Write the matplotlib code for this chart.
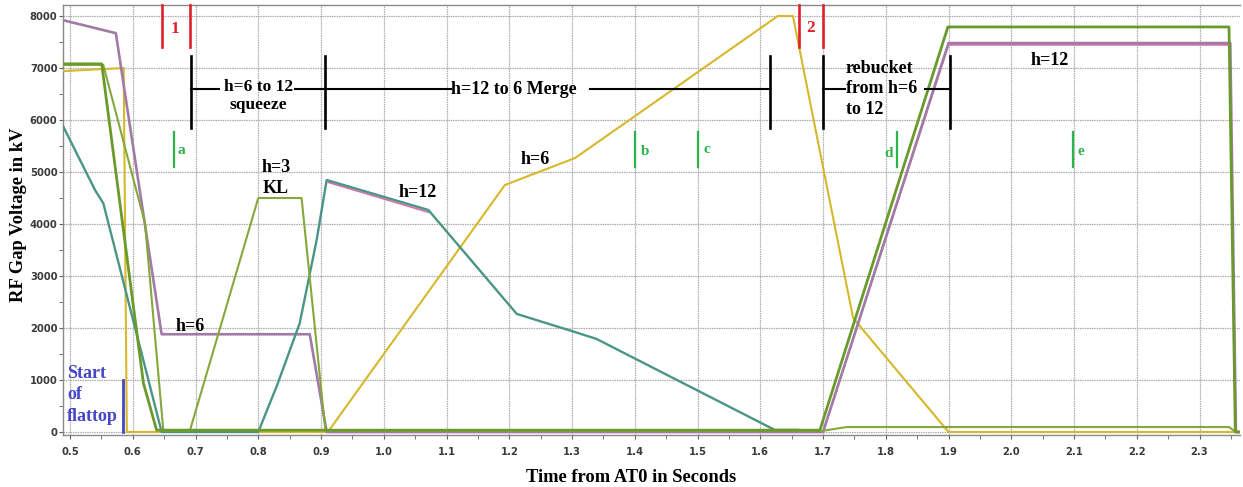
import matplotlib
matplotlib.use("Agg")
import matplotlib.pyplot as plt
import numpy as np
from matplotlib.ticker import MultipleLocator

# ---------------- data (time in s, voltage in kV) ----------------
purple_t = [0.489, 0.573, 0.646, 0.882, 0.909, 1.700, 1.900, 2.349, 2.358, 2.3645]
purple_v = [7920, 7670, 1880, 1880, 0, 0, 7480, 7480, 0, 0]

pink_t = [0.912, 1.071, np.nan, 1.700, 1.900, 2.349]
pink_v = [4800, 4228, np.nan, 0, 7445, 7445]

green1_t = [0.489, 0.5505, 0.617, 0.638, 1.695, 1.899, 2.347, 2.357, 2.3645]
green1_v = [7080, 7080, 936, 35, 35, 7790, 7790, 0, 0]

green2_t = [0.489, 0.553, 0.6195, 0.6487, 0.691, 0.800, 0.869, 0.907, 1.700, 1.738, 2.347, 2.358, 2.3645]
green2_v = [7060, 7060, 4013, 25, 25, 4500, 4500, 25, 25, 95, 95, 0, 0]

teal_t = [0.489, 0.5398, 0.5531, 0.646, 0.800, 0.830, 0.866, 0.893, 0.909, 1.071, 1.212, 1.300, 1.339, 1.623, 1.660]
teal_v = [5880, 4654, 4397, 0, 0, 900, 2090, 3690, 4846, 4270, 2270, 1940, 1790, 40, 40]

yellow_t = [0.489, 0.5855, 0.5905, 0.911, 1.193, 1.305, 1.628, 1.652, 1.748, 1.900, 2.3645]
yellow_v = [6940, 7000, 0, 0, 4750, 5270, 8000, 8000, 2190, 0, 0]

# ---------------- annotation positions ----------------
red_marks_t = [0.646, 0.691, 1.662, 1.700]
red_mark_lo, red_mark_hi = 7400, 8212
bracket_t = [0.693, 0.906, 1.616, 1.700, 1.902]
bracket_lo, bracket_hi = 5850, 7230
bracket_y = 6600
bracket_segments = [(0.693, 0.737), (0.858, 0.906), (0.906, 1.107), (1.328, 1.616),
                    (1.700, 1.735), (1.863, 1.902)]
green_marks_t = [0.666, 1.400, 1.501, 1.818, 2.098]
green_mark_lo, green_mark_hi = 5100, 5760
flattop_t = 0.584
flattop_lo, flattop_hi = 0, 1000

black_labels = [  # text, t, v, ha
    ("h=6 to 12", 0.800, 6560, "center"),
    ("squeeze", 0.800, 6205, "center"),
    ("h=12 to 6 Merge", 1.2076, 6500, "center"),
    ("rebucket", 1.7367, 6910, "left"),
    ("from h=6", 1.7367, 6513, "left"),
    ("to 12", 1.7367, 6115, "left"),
    ("h=12", 2.0618, 7058, "center"),
    ("h=3", 0.8283, 5006, "center"),
    ("KL", 0.8283, 4590, "center"),
    ("h=12", 1.0546, 4513, "center"),
    ("h=6", 1.241, 5154, "center"),
    ("h=6", 0.691, 1949, "center"),
]
red_labels = [("1", 0.6673, 7667), ("2", 1.6803, 7698)]
green_labels = [("a", 0.6705, 5346, "left"), ("b", 1.4095, 5327, "left"),
                ("c", 1.5093, 5359, "left"), ("d", 1.811, 5295, "right"),
                ("e", 2.106, 5327, "left")]
blue_labels = [("Start", 0.4957, 1032), ("of", 0.4957, 635), ("flattop", 0.4957, 218)]

x_ticks = [0.5, 0.6, 0.7, 0.8, 0.9, 1.0, 1.1, 1.2, 1.3, 1.4, 1.5, 1.6, 1.7, 1.8, 1.9, 2.0, 2.1, 2.2, 2.3]
y_ticks = [0, 1000, 2000, 3000, 4000, 5000, 6000, 7000, 8000]

# ---------------- styles ----------------
C_PURPLE = "#a27aa6"
C_PINK = "#d872aa"
C_GREEN1 = "#6a9a2c"
C_GREEN2 = "#84a83c"
C_TEAL = "#4b9586"
C_YELLOW = "#d6b82a"
C_RED = "#e0202a"
C_GMARK = "#2ab54a"
C_BLUE = "#4646c6"
SERIF = ["Liberation Serif", "DejaVu Serif"]

fig = plt.figure(figsize=(12.43, 4.87), dpi=100)
ax = fig.add_axes([63 / 1243, 52 / 487, 1177 / 1243, 430 / 487])
ax.set_xlim(0.4888, 2.3645)
ax.set_ylim(-58, 8212)

ax.set_xticks(x_ticks)
ax.set_xticklabels([f"{t:.1f}" for t in x_ticks])
ax.xaxis.set_minor_locator(MultipleLocator(0.05))
ax.set_yticks(y_ticks)
ax.set_yticklabels([str(v) for v in y_ticks])
ax.yaxis.set_minor_locator(MultipleLocator(500))
ax.grid(True, which="major", color="#ababab", linestyle=(0, (1.2, 0.7)), linewidth=0.9, zorder=0)
ax.set_axisbelow(True)

for lab in ax.get_xticklabels() + ax.get_yticklabels():
    lab.set_fontweight("bold")
    lab.set_fontsize(7.2)
    lab.set_color("#3a3a3a")
ax.tick_params(axis="x", which="both", direction="out", length=3, color="#606060", pad=5.5)
ax.tick_params(axis="y", which="both", direction="out", length=3, color="#606060", pad=1)
for s in ["left", "bottom", "top"]:
    ax.spines[s].set_color("#8a8a8a")
    ax.spines[s].set_linewidth(1.0)
ax.spines["right"].set_visible(False)

# ---------------- traces ----------------
ax.plot(yellow_t, yellow_v, color=C_YELLOW, lw=1.5, zorder=3)
ax.plot(pink_t, pink_v, color=C_PINK, lw=1.3, zorder=3)
ax.plot(purple_t, purple_v, color=C_PURPLE, lw=1.9, zorder=4)
ax.plot(teal_t, teal_v, color=C_TEAL, lw=1.7, zorder=4)
ax.plot(green2_t, green2_v, color=C_GREEN2, lw=1.5, zorder=5)
ax.plot(green1_t, green1_v, color=C_GREEN1, lw=2.0, zorder=5)

# ---------------- annotations ----------------
for t in red_marks_t:
    ax.plot([t, t], [red_mark_lo, red_mark_hi], color=C_RED, lw=1.9, zorder=6, clip_on=False)
for t in bracket_t:
    ax.plot([t, t], [bracket_lo, bracket_hi], color="black", lw=1.9, zorder=6)
for a, b in bracket_segments:
    ax.plot([a, b], [bracket_y, bracket_y], color="black", lw=1.5, zorder=6)
for t in green_marks_t:
    ax.plot([t, t], [green_mark_lo, green_mark_hi], color=C_GMARK, lw=1.6, zorder=6)
ax.plot([flattop_t, flattop_t], [flattop_lo, flattop_hi], color=C_BLUE, lw=2.0, zorder=6)

for txt, t, v, ha in black_labels:
    fs = 12.5 if txt in ("h=6 to 12", "squeeze") else 13
    ax.text(t, v, txt, ha=ha, va="baseline", fontsize=fs, fontweight="bold",
            family=SERIF, color="black", zorder=7)
for txt, t, v in red_labels:
    ax.text(t, v, txt, ha="center", va="baseline", fontsize=12.5, fontweight="bold",
            family=SERIF, color=C_RED, zorder=7)
for txt, t, v, ha in green_labels:
    ax.text(t, v, txt, ha=ha, va="baseline", fontsize=11, fontweight="bold",
            family=SERIF, color=C_GMARK, zorder=7)
for txt, t, v in blue_labels:
    ax.text(t, v, txt, ha="left", va="baseline", fontsize=13, fontweight="bold",
            family=SERIF, color=C_BLUE, zorder=7)

fig.text(631 / 1243, 1 - 477 / 487, "Time from AT0 in Seconds", ha="center", va="center",
         fontsize=13.3, fontweight="bold", family=SERIF)
fig.text(19 / 1243, 1 - 215 / 487, "RF Gap Voltage in kV", ha="center", va="center",
         rotation=90, fontsize=13.3, fontweight="bold", family=SERIF)

fig.savefig("out.png", dpi=100)
